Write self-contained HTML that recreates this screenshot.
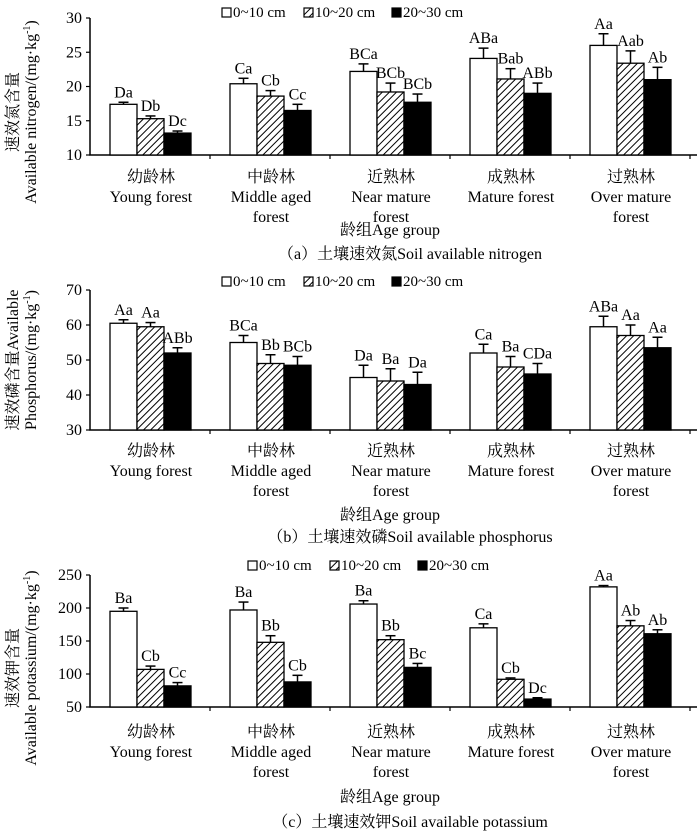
<!DOCTYPE html>
<html><head><meta charset="utf-8">
<style>
body{margin:0;background:#fff;}
svg text{font-family:"Liberation Serif","Noto Serif CJK SC",serif;fill:#000;}
</style></head>
<body>
<svg id="chart" width="700" height="835" viewBox="0 0 700 835" xmlns="http://www.w3.org/2000/svg">
<defs>
<pattern id="hatch" patternUnits="userSpaceOnUse" width="5" height="5" patternTransform="rotate(45)">
<rect width="5" height="5" fill="#fff"/><line x1="0" y1="0" x2="0" y2="5" stroke="#000" stroke-width="2"/>
</pattern>
</defs>
</svg>
<script>
const categoriesCn = ["幼龄林","中龄林","近熟林","成熟林","过熟林"];
const categoriesEn = [["Young forest"],["Middle aged","forest"],["Near mature","forest"],["Mature forest"],["Over mature","forest"]];
const seriesNames = ["0~10 cm","10~20 cm","20~30 cm"];

const nitrogenValues = [[17.4,20.4,22.2,24.1,26.0],[15.3,18.6,19.2,21.1,23.4],[13.2,16.5,17.7,19.0,21.0]];
const nitrogenErrors = [[0.3,0.8,1.1,1.5,1.7],[0.4,0.8,1.3,1.5,1.8],[0.3,0.9,1.2,1.5,1.8]];
const nitrogenLabels = [["Da","Ca","BCa","ABa","Aa"],["Db","Cb","BCb","Bab","Aab"],["Dc","Cc","BCb","ABb","Ab"]];
const nitrogenTicks = [10,15,20,25,30];

const phosphorusValues = [[60.5,55,45,52,59.5],[59.5,49,44,48,57],[52,48.5,43,46,53.5]];
const phosphorusErrors = [[1,2,3.5,2.5,3],[1.2,2.5,3.5,3,3],[1.5,2.5,3.5,3,3]];
const phosphorusLabels = [["Aa","BCa","Da","Ca","ABa"],["Aa","Bb","Ba","Ba","Aa"],["ABb","BCb","Da","CDa","Aa"]];
const phosphorusTicks = [30,40,50,60,70];

const potassiumValues = [[195,197,206,170,232],[107,148,152,92,173],[82,88,110,62,161]];
const potassiumErrors = [[5,12,5,6,2],[5,10,6,2,8],[5,10,6,2,6]];
const potassiumLabels = [["Ba","Ba","Ba","Ca","Aa"],["Cb","Bb","Bb","Cb","Ab"],["Cc","Cb","Bc","Dc","Ab"]];
const potassiumTicks = [50,100,150,200,250];

const NS="http://www.w3.org/2000/svg";
const svg=document.getElementById('chart');
function el(tag,attrs,parent,text){const e=document.createElementNS(NS,tag);for(const k in attrs)e.setAttribute(k,attrs[k]);if(text!==undefined)e.textContent=text;(parent||svg).appendChild(e);return e;}

const panels=[
 {key:"nitrogen",vals:nitrogenValues,errs:nitrogenErrors,labs:nitrogenLabels,ticks:nitrogenTicks,top:18,bottom:155,legY:17,legX:222,
  yt1:"速效氮含量",yt2:"Available nitrogen/(mg·kg",ytCenter:112,cnY:182,caption:"（a）土壤速效氮Soil available nitrogen",ageY:235,capY:259},
 {key:"phosphorus",vals:phosphorusValues,errs:phosphorusErrors,labs:phosphorusLabels,ticks:phosphorusTicks,top:290,bottom:430,legY:286,legX:222,
  yt1:"速效磷含量Available",yt2:"Phosphorus/(mg·kg",ytCenter:360,cnY:456,caption:"（b）土壤速效磷Soil available phosphorus",ageY:520,capY:542},
 {key:"potassium",vals:potassiumValues,errs:potassiumErrors,labs:potassiumLabels,ticks:potassiumTicks,top:575,bottom:707,legY:570,legX:248,
  yt1:"速效钾含量",yt2:"Available potassium/(mg·kg",ytCenter:668,cnY:737,caption:"（c）土壤速效钾Soil available potassium",ageY:802,capY:827}
];
const x0=90,x1=697,groupW=120,barW=27;
const fills=["#fff","url(#hatch)","#000"];
function xCenter(i){return 150+i*groupW;}

panels.forEach(p=>{
 const g=el('g',{});
 
 
 const tmin=p.ticks[0],tmax=p.ticks[p.ticks.length-1];
 const y=v=>p.bottom-(v-tmin)/(tmax-tmin)*(p.bottom-p.top);
 const lg=el('g',{},g);
 
 
 const legOff=[0,82,170];
 seriesNames.forEach((s,k)=>{
  const r=el('rect',{x:p.legX+legOff[k],y:p.legY-9,width:9,height:9,fill:fills[k],stroke:"#000","stroke-width":1.2},lg);
  
  
  const t=el('text',{x:p.legX+legOff[k]+11,y:p.legY,"font-size":15},lg,s);
  
  
 });
 const ax=el('path',{d:`M${x0},${p.top} V${p.bottom} H${x1}`,fill:"none",stroke:"#000","stroke-width":1.5},g);
 
 
 p.ticks.forEach(t=>{
  el('line',{x1:x0-4,x2:x0,y1:y(t),y2:y(t),stroke:"#000","stroke-width":1.2},g);
  const tx=el('text',{x:x0-8,y:y(t)+5,"font-size":16,"text-anchor":"end"},g,t);
  
  
 });
 for(let i=1;i<=5;i++){const xx=x0+i*groupW;el('line',{x1:xx,x2:xx,y1:p.bottom,y2:p.bottom+4,stroke:"#000","stroke-width":1.2},g);}
 for(let k=0;k<3;k++){
  for(let i=0;i<5;i++){
   const bx=xCenter(i)-40+k*barW;
   const v=p.vals[k][i],e=p.errs[k][i];
   const cx=bx+barW/2;
   el('line',{x1:cx,x2:cx,y1:y(v),y2:y(v+e),stroke:"#000","stroke-width":1.5},g);
   el('line',{x1:cx-5,x2:cx+5,y1:y(v+e),y2:y(v+e),stroke:"#000","stroke-width":1.5},g);
   const b=el('rect',{x:bx,y:y(v),width:barW,height:p.bottom-y(v),fill:fills[k],stroke:"#000","stroke-width":1.3},g);
   
   
   const lt=el('text',{x:cx,y:y(v+e)-5,"font-size":16,"text-anchor":"middle"},g,p.labs[k][i]);
   
   
  }
 }
 for(let i=0;i<5;i++){
  const c=el('text',{x:xCenter(i)+1,y:p.cnY,"font-size":16,"text-anchor":"middle"},g,categoriesCn[i]);
  
  
  categoriesEn[i].forEach((ln,j)=>{
   const t=el('text',{x:xCenter(i)+1,y:p.cnY+20+j*20,"font-size":16,"text-anchor":"middle"},g,ln);
   
   
  });
 }
 const at=el('text',{x:390,y:p.ageY,"font-size":16,"text-anchor":"middle"},g,"龄组Age group");
 
 
 const cp=el('text',{x:410,y:p.capY,"font-size":16,"text-anchor":"middle"},g,p.caption);
 
 
 const y1=el('text',{x:0,y:0,"font-size":16,"text-anchor":"middle",transform:`translate(18,${p.ytCenter}) rotate(-90)`},g,p.yt1);
 
 
 const y2=el('text',{x:0,y:0,"font-size":16,"text-anchor":"middle",transform:`translate(36,${p.ytCenter}) rotate(-90)`},g);
 
 
 y2.textContent=p.yt2;
 el('tspan',{"font-size":10,dy:-6},y2,"-1");
 el('tspan',{dy:6},y2,")");
});
</script>
</body></html>
